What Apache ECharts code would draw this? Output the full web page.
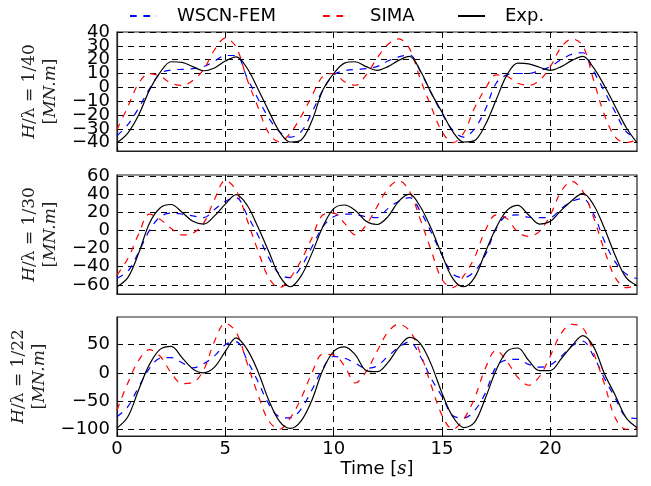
<!DOCTYPE html>
<html><head><meta charset="utf-8">
<script src="https://cdn.jsdelivr.net/npm/echarts@6/dist/echarts.min.js"></script>
<style>html,body{margin:0;padding:0;background:#fff}#c{width:651px;height:486px}</style>
</head><body><div id="c"></div>
<script>
// time samples [s]
const time = [0,0.5,1,1.5,2,2.5,3,3.5,4,4.5,5,5.5,6,6.5,7,7.5,8,8.5,9,9.5,10,10.5,11,11.5,12,12.5,13,13.5,14,14.5,15,15.5,16,16.5,17,17.5,18,18.5,19,19.5,20,20.5,21,21.5,22,22.5,23,23.5,24];

// H/lambda = 1/40
const wscn40 = [-35,-27,-15,-1,10,12.5,13,13.5,15,19,23,23,7,-8,-22,-32,-36,-32,-18,-2,9,12,13,13.5,15,19,22,23.5,11.5,-4,-19,-31,-36,-30,-16,3,9,10,10,12,15,20,24,25,11.5,-3,-18,-32,-37];
const sima40 = [-30.5,-14,3,10,8,3,1.4,5,13,27,35.6,29,6,-14,-33,-39.5,-33,-21,-6,8,10,4,1.5,9,21,31,35,28,6,-14,-32,-40,-33,-15,-1,9,8,3,1.5,5,15,29,35,30,5,-20,-36,-40,-38];
const exp40 = [-40,-33,-20,-2,11,18.5,18,15,12,14,19,22,14,-1,-17,-32,-39.5,-38,-24,-2,10,17.5,18.5,15,12.3,15,19.5,22.4,12,-4,-18,-32,-39.5,-38.5,-27,-9,9,17.5,17,14.5,12.3,15,19.5,22.4,14,1,-14,-29,-40];

// H/lambda = 1/30
const wscn30 = [-52.6,-45,-24,0,15,19,18,16,14,23,32,36,17,-5,-30,-48,-52,-40,-18,4,15,18,17.5,15,14,24,32,36,21,-2,-27,-48,-52,-45,-27,2,16,17,14.5,14,14.3,24,32,35,18,-12,-35,-48,-53];
const sima30 = [-49,-31,-4,18,12,2,-5,-3,8,34,55,44,12,-22,-52,-63,-52,-33,-8,17,19,8,-5,6,26,46,54.8,43,12,-22,-54,-63,-50,-30,0,17,13,-2,-6.5,-1,17,43,54,43,14,-22,-52,-63,-60];
const exp30 = [-62,-52,-25,8,25,28.5,20,10,7,16,29,39.5,28,4,-23,-50,-62,-50,-25,4,24,28,22,10,6.5,15,32,40,26,2,-27,-53,-62,-52,-24,3,22,27.6,17,7,10,22,33,40.8,28,2,-28,-52,-60.6];

// H/lambda = 1/22
const wscn22 = [-78,-60,-25,8,26,27,18,9,16,30,50,55,23,-15,-55,-78,-80,-64,-30,8,29,26,17,8,12,29,45,55,29,-10,-42,-76,-80,-67,-36,11,23,24,15,10,14,29,48,56,29,-10,-45,-78,-81];
const sima22 = [-66,-18,22,41,29,0,-19,-17,5,56,88,72,18,-38,-85,-100,-80,-45,0,33,32,12,-18,2,38,72,86,75,35,-22,-75,-100,-82,-45,8,40,20,-8,-22,-6.5,30,70,86,80,35,-20,-80,-100,-98];
const exp22 = [-98,-78,-30,15,42,47,27,7,0,10,38,62,42,3,-48,-86,-98.5,-85,-48,5,38,46,32,4,2,18,45,63,52,15,-36,-78,-97,-88,-45,5,38,44,22,4,4,25,48,66,46,-2,-40,-80,-97];

// axis ticks
const ticks40 = [-40,-30,-20,-10,0,10,20,30,40];
const ticks40even = [-40,-20,0,20,40];
const ticks40odd = [-30,-10,10,30];
const ticks30 = [-60,-40,-20,0,20,40,60];
const ticks22 = [-100,-50,0,50];
const xTicks = [0,5,10,15,20];
const panelNames = ['1/40','1/30','1/22'];
const seriesNames = ['WSCN-FEM','SIMA','Exp.'];

const pair = arr => time.map((t,i)=>[t,arr[i]]);
const fmt = v => String(v).replace('-', '\u2212');

const tops = [32, 175, 317];
const grids = tops.map(t => ({left:117, right:14, top:t, height:119, show:true, borderColor:'#222', borderWidth:1.2, containLabel:false, outerBoundsMode:'none'}));

const dashGrid = {type:[6,5], color:'#000', width:1};
const xAxes = [0,1,2].map(i => ({
  type:'value', gridIndex:i, min:0, max:24, interval:5,
  axisLine:{show:true, onZero:false, lineStyle:{color:'#222', width:1.2}},
  axisTick:{show:true, inside:true, length:4, customValues:xTicks, lineStyle:{color:'#000'}},
  axisLabel:{show:i===2, color:'#000', fontSize:18, fontFamily:'DejaVu Sans', margin:4, customValues:xTicks, hideOverlap:false},
  splitLine:{show:true, lineStyle:dashGrid},
  name: i===2 ? '{n|Time [}{i|s}{n|]}' : '',
  nameLocation:'middle', nameGap:24,
  nameTextStyle:{rich:{n:{fontSize:18, fontFamily:'DejaVu Sans', color:'#000'}, i:{fontSize:18, fontFamily:'DejaVu Serif', fontStyle:'italic', color:'#000'}}}
}));

const yr = [[-46,40,ticks40],[-70,61,ticks30],[-112,99,ticks22]];
const labelTicks = [ticks40even, ticks30, ticks22];
const yAxes = [0,1,2].map(i => ({
  type:'value', gridIndex:i, min:yr[i][0], max:yr[i][1], position:'left',
  axisLine:{show:true, onZero:false, lineStyle:{color:'#222', width:1.2}},
  axisTick:{show:true, inside:true, length:4, customValues:yr[i][2], lineStyle:{color:'#000'}},
  axisLabel:{color:'#000', fontSize:18, fontFamily:'DejaVu Sans', margin:7, customValues:labelTicks[i], formatter:fmt,
             hideOverlap:false, showMinLabel:true, showMaxLabel:true},
  splitLine:{show:true, lineStyle:dashGrid},
  name:'{i|H}{n|/λ = ' + panelNames[i] + '}\n{n|[}{i|MN.m}{n|]}',
  nameLocation:'middle', nameRotate:90, nameGap:44,
  nameTextStyle:{lineHeight:21, rich:{
    n:{fontSize:17, fontFamily:'DejaVu Serif', color:'#222', lineHeight:21},
    i:{fontSize:17, fontFamily:'DejaVu Serif', fontStyle:'italic', color:'#222', lineHeight:21}}}
}));
// extra label-only axis for the odd ticks of the top panel (labels overlap in the original)
yAxes.push({
  type:'value', gridIndex:0, min:-46, max:40, position:'left', offset:0,
  axisLine:{show:false}, axisTick:{show:false}, splitLine:{show:false},
  axisLabel:{color:'#000', fontSize:18, fontFamily:'DejaVu Sans', margin:7, customValues:ticks40odd, formatter:fmt, hideOverlap:false}
});

const data = [[wscn40,sima40,exp40],[wscn30,sima30,exp30],[wscn22,sima22,exp22]];
const styles = [
  {color:'#0000ff', type:[6.7,6.7], width:1.2},
  {color:'#ff0000', type:[6.7,6.7], width:1.2},
  {color:'#000000', type:'solid', width:1.2}
];
const series = [];
for (let p=0;p<3;p++) for (let s=0;s<3;s++) {
  series.push({
    type:'line', name:seriesNames[s], xAxisIndex:p, yAxisIndex:p,
    data:pair(data[p][s]), smooth:0.35, symbol:'none', showSymbol:false,
    lineStyle:styles[s], itemStyle:{color:styles[s].color}, z: s===2?3:2,
    animation:false
  });
}

const legLeft = [129, 322, 457];
const legend = seriesNames.map((n,i)=>({
  data:[n], left:legLeft[i], top:7, itemWidth:27, itemHeight:14, padding:0,
  itemStyle:{opacity:0},
  textStyle:{fontSize:18, fontFamily:'DejaVu Sans', color:'#000', padding:[0,0,0,15]}
}));

const chart = echarts.init(document.getElementById('c'));
chart.setOption({
  animation:false, backgroundColor:'#fff',
  grid:grids, xAxis:xAxes, yAxis:yAxes, series:series, legend:legend
});
</script></body></html>
